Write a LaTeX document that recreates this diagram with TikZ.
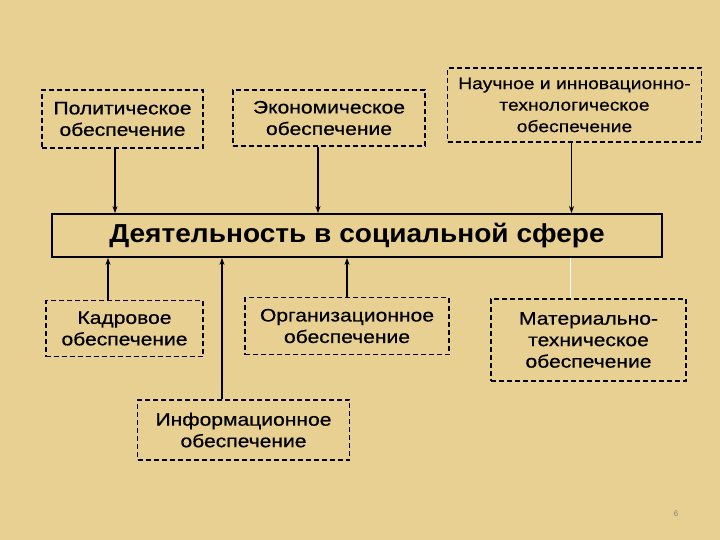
\documentclass[tikz,border=0pt]{standalone}
\usepackage{fontspec}
\setmainfont{Liberation Sans}
\newfontfamily\boxfont{Liberation Sans}[FakeStretch=1.17,FakeBold=0.6]
\newfontfamily\titlefont{Liberation Sans}[FakeStretch=1.08]
\usetikzlibrary{arrows.meta}
\definecolor{bg}{RGB}{231,208,146}
\tikzset{
  dbox/.style={draw=black, line width=1.6pt, dash pattern=on 5pt off 3pt, align=center, inner sep=0pt,
    font=\boxfont\fontsize{18}{21.5}\selectfont},
  smallbox/.style={dbox, font=\boxfont\fontsize{16.5}{21.5}\selectfont},
  mainbox/.style={draw=black, line width=1.8pt, align=center, inner sep=0pt,
    font=\titlefont\bfseries\fontsize{26}{30}\selectfont},
  arr/.style={line width=1.3pt, -{Stealth[length=7pt,width=5pt]}},
}
\begin{document}
\begin{tikzpicture}[x=1pt,y=-1pt]
\fill[bg] (0,0) rectangle (720,540);
\useasboundingbox (0,0) rectangle (720,540);
\node[dbox, minimum width=161pt, minimum height=58pt] (pol) at (122.5,119) {Политическое\\обеспечение};
\node[dbox, minimum width=192pt, minimum height=56pt] (eco) at (329,118) {Экономическое\\обеспечение};
\node[smallbox, minimum width=254pt, minimum height=74pt] (nau) at (574.5,105) {Научное и инновационно-\\технологическое\\обеспечение};
\node[mainbox, minimum width=610pt, minimum height=43pt] (main) at (357,235.5) {Деятельность в социальной сфере};
\node[dbox, minimum width=157pt, minimum height=56pt] (kad) at (124.5,328.5) {Кадровое\\обеспечение};
\node[dbox, minimum width=204pt, minimum height=57pt] (org) at (347,326) {Организационное\\обеспечение};
\node[dbox, minimum width=195pt, minimum height=82pt] (mat) at (588.5,340) {Материально-\\техническое\\обеспечение};
\node[dbox, minimum width=212pt, minimum height=60pt] (inf) at (243.5,430) {Информационное\\обеспечение};
\node[text=gray, font=\fontsize{8}{9}\selectfont] (num) at (676,514) {6};
\draw[arr] ([xshift=-7.5pt]pol.south) -- ([xshift=-7.5pt]pol.south |- main.north);
\draw[arr] ([xshift=-11pt]eco.south) -- ([xshift=-11pt]eco.south |- main.north);
\draw[arr] ([xshift=-3pt]nau.south) -- ([xshift=-3pt]nau.south |- main.north);
\draw[arr] ([xshift=-16.5pt]kad.north) -- ([xshift=-16.5pt]kad.north |- main.south);
\draw[arr] ([xshift=0pt]org.north) -- ([xshift=0pt]org.north |- main.south);
\draw[arr] ([xshift=-21.5pt]inf.north) -- ([xshift=-21.5pt]inf.north |- main.south);
\draw[white, line width=1.3pt] ([xshift=-18pt]mat.north) -- ([xshift=-18pt]mat.north |- main.south);
\end{tikzpicture}
\end{document}
